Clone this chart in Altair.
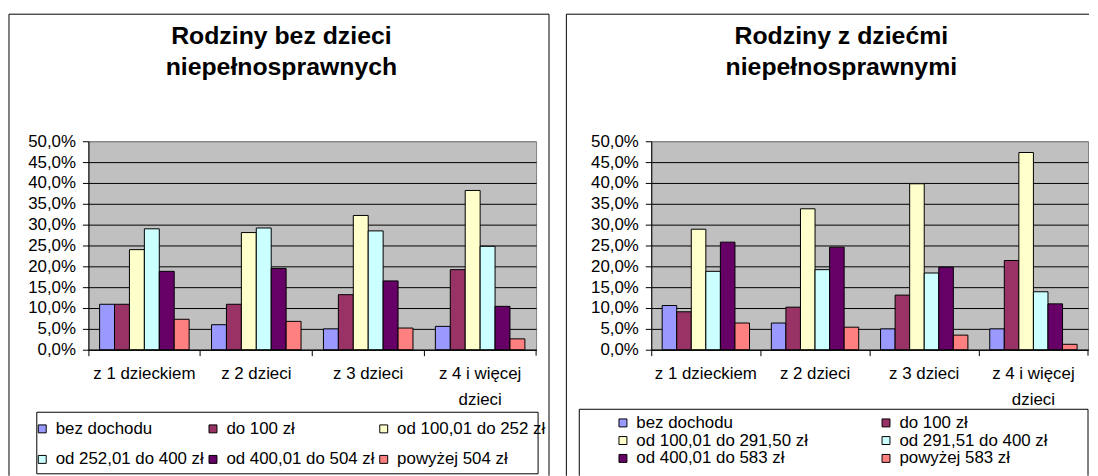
import altair as alt
import pandas as pd

categories = ["z 1 dzieckiem", "z 2 dzieci", "z 3 dzieci", "z 4 i więcej dzieci"]
colors = ["#9999FF", "#993366", "#FFFFCC", "#CCFFFF", "#660066", "#FF8080"]
y_ticks = [0.0, 0.05, 0.10, 0.15, 0.20, 0.25, 0.30, 0.35, 0.40, 0.45, 0.50]

# Left panel
left_title = ["Rodziny bez dzieci", "niepełnosprawnych"]
left_series = ["bez dochodu", "do 100 zł", "od 100,01 do 252 zł",
               "od 252,01 do 400 zł", "od 400,01 do 504 zł", "powyżej 504 zł"]
left_s1 = [10.9, 6.0, 5.0, 5.6]
left_s2 = [10.9, 10.9, 13.2, 19.2]
left_s3 = [24.0, 28.1, 32.2, 38.2]
left_s4 = [29.0, 29.2, 28.5, 24.8]
left_s5 = [18.8, 19.5, 16.5, 10.4]
left_s6 = [7.3, 6.8, 5.2, 2.6]

# Right panel
right_title = ["Rodziny z dziećmi", "niepełnosprawnymi"]
right_series = ["bez dochodu", "do 100 zł", "od 100,01 do 291,50 zł",
                "od 291,51 do 400 zł", "od 400,01 do 583 zł", "powyżej 583 zł"]
right_s1 = [10.6, 6.4, 5.0, 5.0]
right_s2 = [9.1, 10.2, 13.1, 21.4]
right_s3 = [28.9, 33.8, 39.8, 47.3]
right_s4 = [18.8, 19.2, 18.4, 13.9]
right_s5 = [25.8, 24.6, 19.8, 11.0]
right_s6 = [6.4, 5.4, 3.5, 1.3]

FONT = "Liberation Sans"
FS = 17


def make_df(series, values):
    rows = []
    for s, vals in zip(series, values):
        for c, v in zip(categories, vals):
            rows.append({"category": c, "series": s, "value": v / 100.0})
    return pd.DataFrame(rows)


def hrule(one, x1, x2, y):
    return alt.Chart(one).mark_rule(color="black", strokeWidth=1).encode(
        x=alt.value(x1), x2=alt.value(x2), y=alt.value(y))


def vrule(one, x, y1, y2):
    return alt.Chart(one).mark_rule(color="black", strokeWidth=1).encode(
        x=alt.value(x), y=alt.value(y1), y2=alt.value(y2))


def panel(series, values, title, width, height, title_x, border, right_border,
          box, legend_x, legend_y, columns, row_pad, col_pad):
    df = make_df(series, values)
    bars = alt.Chart(df).mark_bar(stroke="black", strokeWidth=1).encode(
        x=alt.X("category:N", sort=categories,
                scale=alt.Scale(paddingInner=0, paddingOuter=0),
                axis=alt.Axis(title=None, labelAngle=0, bandPosition=0,
                              labelFontSize=FS,
                              labelFont=FONT, labelColor="black",
                              labelExpr="datum.value == 'z 4 i więcej dzieci' ? ['z 4 i więcej', 'dzieci'] : datum.label",
                              labelLineHeight=26, labelPadding=10,
                              tickSize=6, tickColor="black",
                              domainColor="black", grid=False)),
        xOffset=alt.XOffset("series:N", sort=series,
                            scale=alt.Scale(paddingInner=0, paddingOuter=0.75)),
        y=alt.Y("value:Q", scale=alt.Scale(domain=[0, 0.5], nice=False),
                axis=alt.Axis(title=None, values=y_ticks,
                              labelExpr="replace(format(datum.value, '.1%'), '.', ',')",
                              labelFontSize=FS, labelFont=FONT, labelColor="black",
                              labelPadding=7, tickSize=6, tickColor="black",
                              domainColor="black", grid=True,
                              gridColor={"condition": {"test": "datum.value >= 0.5", "value": "#808080"},
                                         "value": "black"})),
        color=alt.Color("series:N", sort=series,
                        scale=alt.Scale(domain=series, range=colors),
                        legend=alt.Legend(title=None, orient="none",
                                          legendX=legend_x, legendY=legend_y,
                                          columns=columns, direction="horizontal",
                                          symbolType="square", symbolSize=64,
                                          symbolStrokeColor="black",
                                          symbolStrokeWidth=1,
                                          labelFontSize=FS, labelFont=FONT,
                                          labelColor="black", labelOffset=5,
                                          labelLimit=400, rowPadding=row_pad,
                                          columnPadding=col_pad, padding=0)),
    )
    one = pd.DataFrame({"a": [0]})
    title_mark = alt.Chart(one).mark_text(
        text=title, fontSize=25, fontWeight="bold", font=FONT, color="black",
        align="center", baseline="top", lineHeight=31,
    ).encode(x=alt.value(title_x), y=alt.value(-118))
    bl, br, bt, bb = border
    layers = [bars,
              vrule(one, width, height, height + 6),
              title_mark,
              hrule(one, box[0], box[1], box[2]),
              vrule(one, box[0], box[2], box[3]),
              vrule(one, box[1], box[2], box[3]),
              hrule(one, bl, br, bt),
              vrule(one, bl, bt, bb)]
    if box[3] < 336:
        layers.append(hrule(one, box[0], box[1], box[3]))
    if right_border:
        layers.append(vrule(one, br, bt, bb))
    return alt.layer(*layers).properties(width=width, height=height)


left = panel(left_series, [left_s1, left_s2, left_s3, left_s4, left_s5, left_s6],
             left_title, 451, 210, 194.4,
             (-80, 464, -128, 337), True, (-52, 453, 273, 335),
             -55, 281, 3, 13, 0)
right = panel(right_series, [right_s1, right_s2, right_s3, right_s4, right_s5, right_s6],
              right_title, 440, 210, 191.5,
              (-85.5, 441, -128, 337), False, (-72.5, 440, 270, 337),
              -37, 275, 2, 0, 70)

chart = alt.hconcat(left, right, spacing=116, bounds="flush").resolve_scale(
    color="independent", x="independent", y="independent", xOffset="independent"
).properties(
    padding={"left": 0, "top": 3.5, "right": 0, "bottom": 0},
    background="white",
).configure_view(fill="#C0C0C0", stroke="#808080", strokeWidth=1)

chart.save("out.html", embed_options={"renderer": "svg", "actions": False})
